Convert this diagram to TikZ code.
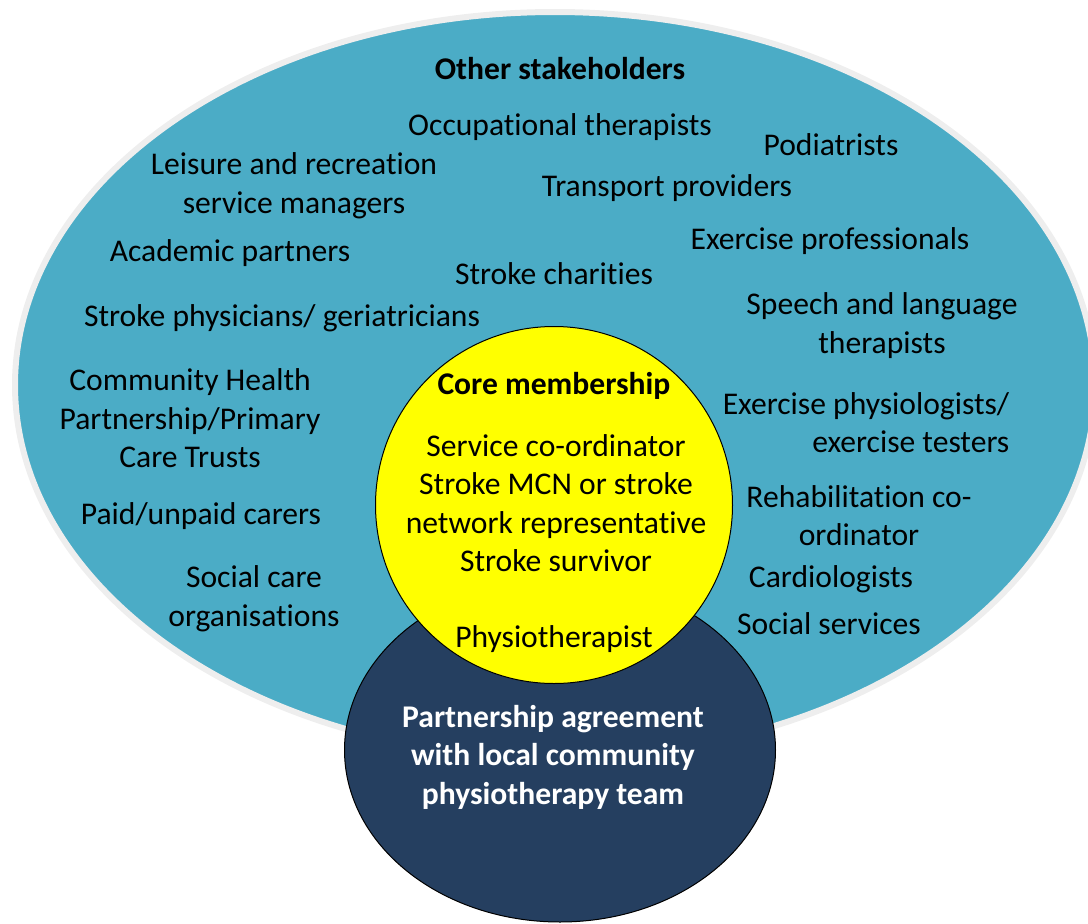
\documentclass[tikz,border=0pt]{standalone}
\usepackage{fontspec}
\setmainfont{Carlito}[RawFeature={-liga}]
\usetikzlibrary{shapes.geometric}
\definecolor{stakeblue}{HTML}{4BACC6}
\definecolor{ringgray}{HTML}{EEEEEE}
\definecolor{teamnavy}{HTML}{253F60}
\definecolor{coreyellow}{HTML}{FFFF00}
\begin{document}
\begin{tikzpicture}[x=1pt,y=-1pt]
			\tikzstyle{blob}=[ellipse,inner sep=0pt,outer sep=0pt]
			\tikzstyle{lbl}=[align=center,inner sep=0pt,yshift=-2pt,font=\fontsize{31.6}{38.5}\selectfont]
			\tikzstyle{head}=[lbl,font=\fontsize{31.6}{38.5}\selectfont\bfseries]
			\useasboundingbox (0,0) rectangle (1088,924);
			% the three areas
			\node[blob,fill=stakeblue,draw=ringgray,line width=6pt,minimum width=1080,minimum height=746] (stake) at (555,385) {};
			\node[blob,fill=teamnavy,draw=black,line width=1pt,minimum width=431,minimum height=344] (team) at (560,750) {};
			\node[circle,inner sep=0pt,fill=coreyellow,draw=black,line width=1pt,minimum size=357] (core) at (554,505) {};
			% other stakeholders
			\node[head] (other) at (560,67) {Other stakeholders};
			\foreach \nm/\x/\y/\txt in {occ/560/125/Occupational therapists, pod/831/143/Podiatrists,
				trans/667/186/Transport providers, exprof/830/239/Exercise professionals,
				acad/230/251/Academic partners, charity/554/272/Stroke charities,
				cardio/831/577/Cardiologists, socserv/829/622/Social services}
			{
				\node[lbl] (\nm) at (\x,\y) {\txt};
			}
			\node[lbl] (physic) at (282,316) {Stroke physicians/ geriatricians};
			\node[lbl] (carers) at (201,514) {Paid/unpaid carers};
			\node[lbl] (leisure) at (294,183.5) {Leisure and recreation\\service managers};
			\node[lbl] (speech) at (882,323.5) {Speech and language\\therapists};
			\node[lbl] (chp) at (190,416.5) {Community Health\\Partnership/Primary\\Care Trusts};
			\node[lbl,align=right] (exphys) at (866,420.5) {Exercise physiologists/\\exercise testers};
			\node[lbl] (rehab) at (859,513.5) {Rehabilitation co-\\ordinator};
			\node[lbl] (socare) at (254,596.5) {Social care\\organisations};
			% core membership
			\node[head] (corehead) at (554,384) {Core membership};
			\node[lbl] (members) at (556,501) {Service co-ordinator\\Stroke MCN or stroke\\network representative\\Stroke survivor};
			\node[lbl] (physio) at (554,637) {Physiotherapist};
			% partnership
			\node[head,text=white] (partner) at (553,755) {Partnership agreement\\with local community\\physiotherapy team};
\end{tikzpicture}
\end{document}
